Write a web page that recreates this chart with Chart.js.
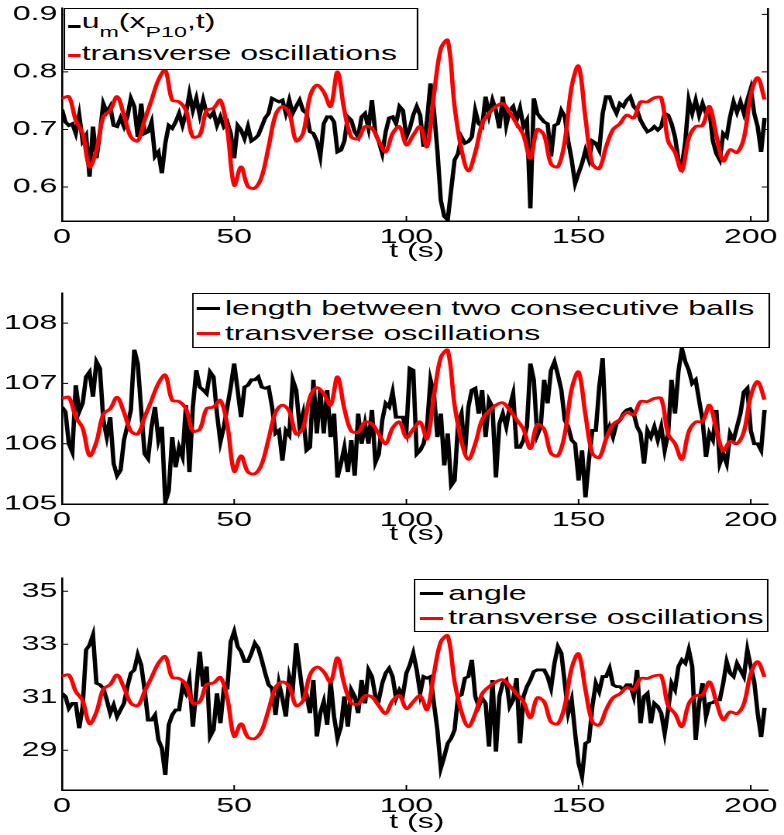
<!DOCTYPE html>
<html>
<head>
<meta charset="utf-8">
<script src="https://cdn.jsdelivr.net/npm/chart.js@4.4.1/dist/chart.umd.min.js"></script>
<style>
  html, body { margin: 0; padding: 0; background: #fff; overflow: hidden; }
  body { width: 784px; height: 835px; position: relative; }
  /* la figura original esta estirada en horizontal: se dibuja a 506px y se escala */
  #fig { position: absolute; left: 0; top: 0; width: 506px; height: 835px; transform-origin: 0 0; transform: scaleX(1.5494); }
  #fig canvas { position: absolute; left: 0; }
  .caja { position: absolute; border: 1.2px solid #000; background: #fff; box-sizing: border-box; }
  .fila { position: absolute; white-space: nowrap; font: 20.7px/21px 'Liberation Sans', Arial, sans-serif; color: #000; }
  .muestra { position: absolute; height: 3px; }
  .sub { font-size: 15px; position: relative; top: 9px; }
  .eje { position: absolute; left: 40px; width: 458px; text-align: center; font: 20.7px/21px 'Liberation Sans', Arial, sans-serif; color: #000; }
</style>
</head>
<body>
<div id="fig">
  <canvas id="graf1" width="506" height="273" style="top:-12px"></canvas>
  <canvas id="graf2" width="506" height="271" style="top:273px"></canvas>
  <canvas id="graf3" width="506" height="272" style="top:558px"></canvas>

  <!-- leyenda 1 -->
  <div class="caja" style="left:40.7px; top:8px; width:229.1px; height:62px"></div>
  <div class="muestra" style="left:43.7px; top:25.2px; width:7.9px; background:#000"></div>
  <div class="fila" style="left:52.7px; top:10px">u<span class="sub">m</span>(x<span class="sub">P10</span>,t)</div>
  <div class="muestra" style="left:43.7px; top:53.5px; width:7.9px; background:#ff0000"></div>
  <div class="fila" style="left:52.7px; top:42.3px">transverse oscillations</div>

  <!-- leyenda 2 -->
  <div class="caja" style="left:123.7px; top:293.3px; width:373.2px; height:54.4px"></div>
  <div class="muestra" style="left:127px; top:306.8px; width:15px; background:#000"></div>
  <div class="fila" style="left:145.2px; top:297.25px">length between two consecutive balls</div>
  <div class="muestra" style="left:127px; top:331.8px; width:15px; background:#ff0000"></div>
  <div class="fila" style="left:145.2px; top:322.25px">transverse oscillations</div>

  <!-- leyenda 3 -->
  <div class="caja" style="left:267.4px; top:579.3px; width:229.1px; height:52.4px"></div>
  <div class="muestra" style="left:271.1px; top:591.8px; width:15px; background:#000"></div>
  <div class="fila" style="left:289.3px; top:582.25px">angle</div>
  <div class="muestra" style="left:271.1px; top:616.8px; width:15px; background:#ff0000"></div>
  <div class="fila" style="left:289.3px; top:605.55px">transverse oscillations</div>

  <div class="eje" style="top:239.3px">t (s)</div>
  <div class="eje" style="top:522.3px">t (s)</div>
  <div class="eje" style="top:810.3px">t (s)</div>
</div>

<script>
// ======================================================================
// 1. DATOS
// ======================================================================
const xMax = 205;
const xTicks = [0, 50, 100, 150, 200];

// muestreo: negro cada 1 s, rojo cada 2 s
const pasoNegro = 1;
const pasoRojo = 2;

// Grafico 1: u_m(x_P10,t)
const yTicks1 = [0.6, 0.7, 0.8, 0.9];
const yLabels1 = ['0.6', '0.7', '0.8', '0.9'];
const yRango1 = [0.541, 0.911];
const negro1 = [
  0.735, 0.713, 0.707, 0.71, 0.693, 0.725, 0.68, 0.69, 0.618, 0.705,
  0.65, 0.693, 0.745, 0.73, 0.74, 0.707, 0.705, 0.72, 0.705, 0.722,
  0.754, 0.74, 0.687, 0.745, 0.693, 0.696, 0.713, 0.653, 0.661, 0.624,
  0.676, 0.707, 0.702, 0.713, 0.728, 0.707, 0.728, 0.762, 0.733, 0.754,
  0.725, 0.751, 0.728, 0.722, 0.73, 0.707, 0.722, 0.705, 0.713, 0.693,
  0.65, 0.707, 0.699, 0.684, 0.705, 0.68, 0.684, 0.69, 0.705, 0.72,
  0.728, 0.754, 0.751, 0.748, 0.751, 0.728, 0.751, 0.728, 0.74, 0.751,
  0.733, 0.728, 0.696, 0.693, 0.68, 0.653, 0.71, 0.722, 0.722, 0.713,
  0.661, 0.664, 0.68, 0.722, 0.716, 0.696, 0.687, 0.722, 0.728, 0.702,
  0.751, 0.693, 0.679, 0.658, 0.696, 0.72, 0.722, 0.71, 0.74, 0.733,
  0.687, 0.702, 0.725, 0.74, 0.725, 0.67, 0.716, 0.78, 0.733, 0.664,
  0.577, 0.549, 0.543, 0.595, 0.647, 0.658, 0.687, 0.676, 0.679, 0.687,
  0.733, 0.71, 0.705, 0.757, 0.725, 0.751, 0.733, 0.702, 0.757, 0.707,
  0.733, 0.74, 0.716, 0.737, 0.705, 0.716, 0.563, 0.754, 0.728, 0.72,
  0.713, 0.71, 0.653, 0.707, 0.71, 0.733, 0.722, 0.68, 0.647, 0.606,
  0.624, 0.641, 0.664, 0.647, 0.68, 0.676, 0.664, 0.728, 0.757, 0.757,
  0.74, 0.728, 0.745, 0.74, 0.751, 0.757, 0.74, 0.733, 0.716, 0.705,
  0.696, 0.699, 0.705, 0.699, 0.705, 0.728, 0.725, 0.71, 0.687, 0.647,
  0.635, 0.68, 0.751, 0.728, 0.751, 0.725, 0.745, 0.728, 0.733, 0.68,
  0.658, 0.647, 0.693, 0.687, 0.722, 0.748, 0.73, 0.748, 0.728, 0.751,
  0.771, 0.728, 0.705, 0.661, 0.72
];
const rojo1 = [
  0.754, 0.757, 0.716, 0.693, 0.635, 0.664, 0.722, 0.733, 0.757, 0.725,
  0.687, 0.68, 0.716, 0.751, 0.786, 0.803, 0.751, 0.748, 0.733, 0.687,
  0.69, 0.733, 0.737, 0.751, 0.699, 0.603, 0.635, 0.601, 0.598, 0.618,
  0.67, 0.725, 0.74, 0.728, 0.68, 0.693, 0.757, 0.777, 0.765, 0.74,
  0.8, 0.733, 0.687, 0.684, 0.705, 0.702, 0.68, 0.661, 0.693, 0.705,
  0.673, 0.69, 0.705, 0.67, 0.76, 0.84, 0.855, 0.74, 0.665, 0.628,
  0.66, 0.71, 0.728, 0.74, 0.745, 0.73, 0.71, 0.69, 0.65, 0.7,
  0.69, 0.64, 0.635, 0.68, 0.775, 0.81, 0.72, 0.64, 0.632, 0.67,
  0.7, 0.71, 0.725, 0.72, 0.748, 0.748, 0.755, 0.755, 0.68, 0.66,
  0.628, 0.685, 0.705, 0.707, 0.74, 0.69, 0.645, 0.665, 0.66, 0.685,
  0.76, 0.79, 0.752
];

// Grafico 2: distancia entre dos bolas consecutivas
const yTicks2 = [105, 106, 107, 108];
const yLabels2 = ['105', '106', '107', '108'];
const yRango2 = [105, 108.5];
const negro2 = [
  106.61, 106.53, 106.0, 105.86, 106.97, 106.53, 106.67, 107.11, 107.19, 106.78,
  107.36, 107.25, 106.39, 106.11, 106.44, 105.67, 105.47, 105.56, 106.06, 106.3,
  106.56, 107.56, 107.33, 106.56, 105.83, 105.75, 106.28, 106.61, 106.06, 106.28,
  105.03, 105.22, 106.11, 105.61, 105.94, 105.78, 106.64, 105.53, 106.61, 107.22,
  106.94, 106.89, 106.83, 107.19, 107.11, 106.5, 106.03, 106.28, 106.61, 106.94,
  107.33, 106.89, 106.44, 106.94, 106.97, 107.06, 107.06, 107.11, 106.94, 106.92,
  106.94, 106.61, 106.17, 106.22, 105.72, 106.22, 106.14, 107.06, 106.89, 106.28,
  106.5, 105.89, 105.94, 107.06, 106.17, 106.89, 106.17, 106.89, 106.11, 106.5,
  105.44, 105.67, 105.94, 105.53, 106.06, 105.47, 106.5, 106.0, 106.33, 106.0,
  106.56, 105.69, 105.83, 106.39, 106.67, 106.61, 106.86, 106.44, 106.44, 106.44,
  106.22, 107.25, 107.22, 105.83, 105.89, 106.0, 106.28, 107.06, 106.83, 106.11,
  106.5, 105.64, 106.17, 105.31, 105.39, 106.33, 106.5, 105.83, 106.61, 106.89,
  106.92, 106.5, 106.89, 106.11, 106.72, 106.61, 105.44, 106.33, 106.5, 106.28,
  106.61, 106.83, 105.94, 105.94, 106.06, 106.28, 107.33, 107.06, 106.14, 106.28,
  107.06, 106.67, 107.22, 107.36, 107.14, 106.89, 106.39, 106.28, 106.06, 106.0,
  105.39, 105.89, 105.11, 105.72, 106.22, 106.22, 106.94, 107.42, 106.11, 106.28,
  106.11, 106.33, 106.39, 106.5, 106.56, 106.58, 106.5, 106.28, 106.17, 105.67,
  106.22, 106.11, 106.28, 106.06, 106.28, 105.89, 106.17, 107.06, 106.5, 107.2,
  107.58, 107.36, 107.22, 107.0, 107.06, 106.72, 106.39, 105.78, 106.17, 106.06,
  106.56, 105.67, 105.83, 105.67, 106.17, 106.06, 106.28, 106.5, 106.86, 106.92,
  106.22, 106.0, 106.0, 105.89, 106.56
];
const rojo2 = [
  106.75, 106.77, 106.44, 106.26, 105.80, 106.03, 106.49, 106.58, 106.77, 106.52,
  106.21, 106.16, 106.44, 106.72, 107.00, 107.14, 106.72, 106.70, 106.58, 106.21,
  106.24, 106.58, 106.61, 106.72, 106.31, 105.54, 105.80, 105.53, 105.50, 105.66,
  106.08, 106.52, 106.64, 106.54, 106.16, 106.26, 106.77, 106.93, 106.83, 106.64,
  107.11, 106.58, 106.21, 106.19, 106.36, 106.33, 106.16, 106.00, 106.26, 106.36,
  106.10, 106.24, 106.36, 106.08, 106.79, 107.43, 107.55, 106.64, 106.04, 105.74,
  106.00, 106.40, 106.54, 106.64, 106.68, 106.56, 106.40, 106.24, 105.92, 106.32,
  106.24, 105.84, 105.80, 106.16, 106.91, 107.19, 106.48, 105.84, 105.77, 106.08,
  106.32, 106.40, 106.52, 106.48, 106.70, 106.70, 106.75, 106.75, 106.16, 106.00,
  105.74, 106.20, 106.36, 106.37, 106.64, 106.24, 105.88, 106.04, 106.00, 106.20,
  106.79, 107.03, 106.73
];

// Grafico 3: angulo
const yTicks3 = [29, 31, 33, 35];
const yLabels3 = ['29', '31', '33', '35'];
const yRango3 = [27.5, 35.5];
const negro3 = [
  31.15, 31.03, 30.58, 30.77, 30.77, 29.83, 30.65, 32.79, 32.97, 33.35,
  31.53, 31.47, 31.34, 30.9, 30.4, 30.71, 30.27, 30.52, 30.77, 31.4,
  31.91, 32.03, 32.6, 32.22, 31.28, 30.14, 30.14, 30.33, 29.39, 29.08,
  28.07, 29.96, 30.33, 30.52, 30.52, 31.4, 31.15, 31.65, 29.89, 31.28,
  32.72, 31.4, 32.16, 29.52, 29.77, 31.15, 30.02, 31.34, 31.34, 33.1,
  33.48, 32.91, 32.72, 32.35, 32.35, 32.66, 33.04, 32.85, 32.41, 31.91,
  31.47, 31.34, 30.33, 31.53, 30.96, 30.27, 31.78, 31.28, 33.04, 32.03,
  31.03, 31.09, 30.4, 31.65, 29.52, 30.4, 30.84, 29.96, 31.59, 30.27,
  29.45, 29.89, 31.03, 29.89, 31.28, 31.03, 30.4, 31.65, 30.77, 32.03,
  31.78, 31.03, 30.9, 31.53, 31.91, 32.09, 31.78, 30.96, 31.28, 31.09,
  31.91, 32.22, 32.66, 32.03, 31.15, 31.78, 31.72, 31.78, 30.77, 29.77,
  28.32, 28.76, 29.26, 29.45, 29.77, 31.03, 31.09, 31.72, 31.78, 32.41,
  31.03, 30.65, 30.96, 30.77, 29.14, 31.65, 28.95, 31.03, 31.53, 31.65,
  30.65, 30.9, 31.72, 29.26, 31.03, 31.4, 31.65, 31.97, 32.03, 32.03,
  32.03, 31.78, 31.34, 32.28, 32.91, 32.66, 31.53, 30.4, 30.9, 29.64,
  28.51, 28.01, 29.26, 29.33, 30.65, 31.53, 31.21, 31.78, 31.78, 32.09,
  31.47, 31.4, 31.4, 31.28, 31.47, 31.47, 31.03, 32.03, 30.02, 31.03,
  31.15, 30.02, 30.77, 30.65, 30.4, 29.64, 30.52, 31.53, 31.28, 32.16,
  32.41, 32.28, 32.79, 32.16, 29.39, 30.77, 31.53, 30.27, 30.77, 30.8,
  30.9, 30.9, 31.53, 32.35, 31.91, 31.78, 32.28, 32.03, 31.78, 32.79,
  32.16, 31.6, 30.4, 29.5, 30.6
];
const rojo3 = [
  31.80, 31.84, 31.22, 30.87, 30.00, 30.44, 31.31, 31.48, 31.84, 31.36,
  30.78, 30.68, 31.22, 31.75, 32.28, 32.54, 31.75, 31.71, 31.48, 30.78,
  30.83, 31.48, 31.54, 31.75, 30.97, 29.52, 30.00, 29.49, 29.44, 29.74,
  30.53, 31.36, 31.58, 31.40, 30.68, 30.87, 31.84, 32.14, 31.96, 31.58,
  32.49, 31.48, 30.78, 30.74, 31.06, 31.01, 30.68, 30.39, 30.87, 31.06,
  30.57, 30.83, 31.06, 30.53, 31.89, 33.09, 33.32, 31.58, 30.45, 29.89,
  30.38, 31.13, 31.40, 31.58, 31.66, 31.43, 31.13, 30.83, 30.23, 30.98,
  30.83, 30.07, 30.00, 30.68, 32.11, 32.64, 31.28, 30.07, 29.95, 30.53,
  30.98, 31.13, 31.36, 31.28, 31.71, 31.71, 31.81, 31.81, 30.68, 30.38,
  29.89, 30.75, 31.06, 31.09, 31.58, 30.83, 30.15, 30.45, 30.38, 30.75,
  31.89, 32.34, 31.77
];

// ======================================================================
// 2. CONFIGURACION COMUNES
// ======================================================================
Chart.defaults.font.family = "'Liberation Sans', Arial, sans-serif";
Chart.defaults.font.size = 20.7;
Chart.defaults.color = '#000';

const aPuntos = (valores, paso) => valores.map((v, i) => ({ x: i * paso, y: v }));

// ticks hacia dentro (estilo MATLAB) y borde derecho opcional
const ticksInternos = {
  id: 'ticksInternos',
  afterDraw(chart, args, opts) {
    const { ctx, chartArea: a, scales: { x, y } } = chart;
    ctx.save();
    ctx.strokeStyle = '#000';
    ctx.lineWidth = 1;
    ctx.beginPath();
    x.ticks.forEach(t => {
      const px = x.getPixelForValue(t.value);
      ctx.moveTo(px, a.bottom);
      ctx.lineTo(px, a.bottom - 5);
    });
    y.ticks.forEach(t => {
      const py = y.getPixelForValue(t.value);
      ctx.moveTo(a.left, py);
      ctx.lineTo(a.left + 4, py);
      if (opts.caja) {
        ctx.moveTo(a.right, py);
        ctx.lineTo(a.right - 4, py);
      }
    });
    ctx.stroke();
    if (opts.caja) {
      ctx.lineWidth = 1.3;
      ctx.beginPath();
      ctx.moveTo(a.right, a.top);
      ctx.lineTo(a.right, a.bottom);
      ctx.stroke();
    }
    ctx.restore();
  }
};

function crearGrafico(idCanvas, negro, rojo, yTicks, yLabels, yRango, conCaja) {
  return new Chart(document.getElementById(idCanvas), {
    type: 'line',
    data: {
      datasets: [
        {
          data: aPuntos(rojo, pasoRojo),
          borderColor: '#ff0000',
          borderWidth: 2.8,
          tension: 0.35,
          pointRadius: 0,
          order: 0
        },
        {
          data: aPuntos(negro, pasoNegro),
          borderColor: '#000000',
          borderWidth: 2.8,
          tension: 0,
          pointRadius: 0,
          order: 1
        }
      ]
    },
    options: {
      responsive: false,
      animation: false,
      devicePixelRatio: 2,
      layout: { padding: { top: 20, right: 8, bottom: 0, left: 0 } },
      plugins: {
        legend: { display: false },
        tooltip: { enabled: false },
        ticksInternos: { caja: conCaja }
      },
      scales: {
        x: {
          type: 'linear',
          min: 0,
          max: xMax,
          grid: { display: false, drawTicks: false },
          border: { display: true, color: '#000', width: 1.5 },
          ticks: { padding: 4, maxRotation: 0, autoSkip: false },
          afterBuildTicks: s => { s.ticks = xTicks.map(v => ({ value: v })); },
          afterFit: s => { s.height = 40; }
        },
        y: {
          min: yRango[0],
          max: yRango[1],
          grid: { display: false, drawTicks: false },
          border: { display: true, color: '#000', width: 1.3 },
          ticks: {
            padding: 3,
            autoSkip: false,
            callback: v => yLabels[yTicks.indexOf(v)]
          },
          afterBuildTicks: s => { s.ticks = yTicks.map(v => ({ value: v })); },
          afterFit: s => { s.width = 40; }
        }
      }
    },
    plugins: [ticksInternos]
  });
}

// ======================================================================
// 3. DIBUJAR LOS TRES PANELES
// ======================================================================
crearGrafico('graf1', negro1, rojo1, yTicks1, yLabels1, yRango1, true);
crearGrafico('graf2', negro2, rojo2, yTicks2, yLabels2, yRango2, false);
crearGrafico('graf3', negro3, rojo3, yTicks3, yLabels3, yRango3, false);
</script>
</body>
</html>
